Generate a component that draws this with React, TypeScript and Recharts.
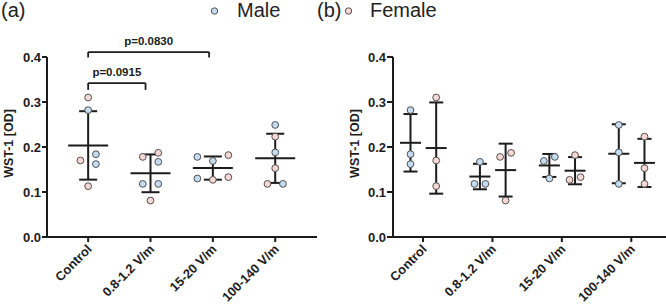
import React from 'react';
import { ScatterChart, Scatter, XAxis, YAxis, ErrorBar, ReferenceLine } from 'recharts';

// WST-1 optical density per exposure group, one value per animal
const GROUPS = ['Control', '0.8-1.2 V/m', '15-20 V/m', '100-140 V/m'];
const MALE = [
  [0.282, 0.184, 0.162],
  [0.167, 0.118, 0.118],
  [0.178, 0.169, 0.13],
  [0.249, 0.188, 0.118],
];
const FEMALE = [
  [0.31, 0.17, 0.113],
  [0.187, 0.178, 0.081],
  [0.182, 0.133, 0.127],
  [0.223, 0.153, 0.118],
];
const Y_TICKS = [0, 0.1, 0.2, 0.3, 0.4];
const P_LABELS = ['p=0.0915', 'p=0.0830'];

const FONT = '"Liberation Sans", Arial, sans-serif';
const INK = '#1c1c1c';
const MALE_FILL = '#c4dcf1';
const FEMALE_FILL = '#f7d7d3';
const DOT_STROKE = '#505050';

const W = 333;
const H = 304;
const TOP = 57;
const X_AXIS_H = 67;
const PLOT_H = H - TOP - X_AXIS_H;
const Y_PX = PLOT_H / 0.4;

// male / female sub-columns in panel b
const SUB = { m: -0.18, f: 0.19 };

// significance brackets in panel a (data units)
const BRACKETS = [
  { from: 0, to: 0.92, y: 0.342, drop: 0.015 },
  { from: 0, to: 1.94, y: 0.411, drop: 0.012 },
];

const mean = (v: number[]) => v.reduce((s, x) => s + x, 0) / v.length;
const sd = (v: number[]) => {
  const m = mean(v);
  return Math.sqrt(v.reduce((s, x) => s + (x - m) ** 2, 0) / (v.length - 1));
};

// spread overlapping dots sideways into columns (px offsets)
function swarm(values: number[], step: number, diam = 8.5) {
  const order = values.map((_, i) => i).sort((a, b) => values[b] - values[a]);
  const dx = values.map(() => 0);
  let i = 0;
  while (i < order.length) {
    let j = i;
    while (j + 1 < order.length && (values[order[j]] - values[order[j + 1]]) * Y_PX < diam) j++;
    const cluster = order.slice(i, j + 1);
    const clash = (k: number) =>
      cluster.some((id, n) => n + k < cluster.length && (values[id] - values[cluster[n + k]]) * Y_PX < diam);
    let k = 1;
    while (k < cluster.length && clash(k)) k++;
    const cols = k === 1 ? [0] : k === 2 ? [0.5, -0.5] : [1, -1, 0];
    cluster.forEach((id, n) => {
      dx[id] = cols[n % cols.length] * step;
    });
    i = j + 1;
  }
  return dx;
}

type Dot = { x: number; y: number; dx: number };

// panel a: both sexes pooled per group
const pooledMale: Dot[] = [];
const pooledFemale: Dot[] = [];
GROUPS.forEach((_, i) => {
  const vals = [...MALE[i], ...FEMALE[i]];
  const dx = swarm(vals, 15.5);
  vals.forEach((v, n) => {
    const d = { x: i, y: v, dx: dx[n] };
    if (n < MALE[i].length) pooledMale.push(d);
    else pooledFemale.push(d);
  });
});
const pooledSummary = GROUPS.map((_, i) => {
  const vals = [...MALE[i], ...FEMALE[i]];
  return { x: i, y: mean(vals), sd: sd(vals) };
});

// panel b: sexes side by side
const splitDots = (src: number[][], off: number): Dot[] =>
  src.flatMap((vals, i) => {
    const dx = swarm(vals, 11);
    return vals.map((v, n) => ({ x: i + off, y: v, dx: dx[n] }));
  });
const splitSummary = (src: number[][], off: number) =>
  src.map((vals, i) => ({ x: i + off, y: mean(vals), sd: sd(vals) }));

const maleDots = splitDots(MALE, SUB.m);
const femaleDots = splitDots(FEMALE, SUB.f);
const maleSummary = splitSummary(MALE, SUB.m);
const femaleSummary = splitSummary(FEMALE, SUB.f);

const dotShape = (fill: string) => (p: any) => (
  <circle cx={p.cx + p.payload.dx} cy={p.cy} r={3.4} fill={fill} stroke={DOT_STROKE} strokeWidth={1} />
);

const meanShape = (half: number) => (p: any) => (
  <line x1={p.cx - half} x2={p.cx + half} y1={p.cy} y2={p.cy} stroke={INK} strokeWidth={2} />
);

const CategoryTick = (p: any) => {
  const x = p.x + 4.5;
  const y = p.y + 6;
  return (
    <text
      x={x}
      y={y}
      transform={`rotate(-45 ${x} ${y})`}
      textAnchor="end"
      fontFamily={FONT}
      fontWeight="bold"
      fontSize={12.8}
      fill={INK}
    >
      {GROUPS[p.payload.value]}
    </text>
  );
};

const yTitle = (cx: number) => (p: any) => {
  const vb = p.viewBox;
  const cy = vb.y + vb.height / 2 - 3.5;
  return (
    <text
      x={cx}
      y={cy}
      transform={`rotate(-90 ${cx} ${cy})`}
      textAnchor="middle"
      dominantBaseline="central"
      fontFamily={FONT}
      fontWeight="bold"
      fontSize={12.5}
      fill={INK}
    >
      WST-1 [OD]
    </text>
  );
};

const axisStroke = { stroke: INK, strokeWidth: 2 };
const tickFont = { fill: INK, fontSize: 13, fontWeight: 700, fontFamily: FONT };

export default function App() {
  const lineProps = { stroke: INK, strokeWidth: 1.8, ifOverflow: 'visible' as const };
  return (
    <div style={{ position: 'absolute', left: 0, top: 0, width: 666, height: 304, background: '#fff' }}>
      <div style={{ position: 'absolute', left: 0, top: 0 }}>
        <ScatterChart width={W} height={H} margin={{ top: TOP, right: 16, bottom: 0, left: 0 }}>
          <XAxis
            type="number"
            dataKey="x"
            domain={[-0.66, 3.67]}
            ticks={[0, 1, 2, 3]}
            interval={0}
            height={X_AXIS_H}
            tick={CategoryTick}
            tickSize={5}
            axisLine={axisStroke}
            tickLine={axisStroke}
            allowDataOverflow
          />
          <YAxis
            type="number"
            dataKey="y"
            domain={[0, 0.4]}
            ticks={Y_TICKS}
            interval={0}
            width={47}
            tickSize={5}
            tickMargin={1}
            tick={tickFont}
            tickFormatter={(v: number) => v.toFixed(1)}
            axisLine={axisStroke}
            tickLine={axisStroke}
            label={{ content: yTitle(8.7) }}
            allowDataOverflow
          />
          {BRACKETS.map((b, i) => (
            <ReferenceLine
              key={`h${i}`}
              segment={[{ x: b.from, y: b.y }, { x: b.to, y: b.y }]}
              {...lineProps}
              label={{
                value: P_LABELS[i],
                position: 'top',
                offset: 7,
                fill: INK,
                fontSize: 11.5,
                fontWeight: 700,
                fontFamily: FONT,
              }}
            />
          ))}
          {BRACKETS.flatMap((b, i) =>
            [b.from, b.to].map((x, k) => (
              <ReferenceLine
                key={`v${i}${k}`}
                segment={[{ x, y: b.y }, { x, y: b.y - b.drop }]}
                {...lineProps}
              />
            ))
          )}
          <Scatter data={pooledSummary} shape={meanShape(20)} isAnimationActive={false}>
            <ErrorBar dataKey="sd" direction="y" width={9} stroke={INK} strokeWidth={2} isAnimationActive={false} />
          </Scatter>
          <Scatter data={pooledMale} shape={dotShape(MALE_FILL)} isAnimationActive={false} />
          <Scatter data={pooledFemale} shape={dotShape(FEMALE_FILL)} isAnimationActive={false} />
        </ScatterChart>
      </div>
      <div style={{ position: 'absolute', left: W, top: 0 }}>
        <ScatterChart width={W} height={H} margin={{ top: TOP, right: 0, bottom: 0, left: 0 }}>
          <XAxis
            type="number"
            dataKey="x"
            domain={[-0.432, 3.5]}
            ticks={[0, 1, 2, 3]}
            interval={0}
            height={X_AXIS_H}
            tick={CategoryTick}
            tickSize={5}
            axisLine={axisStroke}
            tickLine={axisStroke}
            allowDataOverflow
          />
          <YAxis
            type="number"
            dataKey="y"
            domain={[0, 0.4]}
            ticks={Y_TICKS}
            interval={0}
            width={60}
            tickSize={6}
            tickMargin={1}
            tick={tickFont}
            tickFormatter={(v: number) => v.toFixed(1)}
            axisLine={axisStroke}
            tickLine={axisStroke}
            label={{ content: yTitle(22) }}
            allowDataOverflow
          />
          <Scatter data={maleSummary} shape={meanShape(10.5)} isAnimationActive={false}>
            <ErrorBar dataKey="sd" direction="y" width={7} stroke={INK} strokeWidth={2} isAnimationActive={false} />
          </Scatter>
          <Scatter data={femaleSummary} shape={meanShape(10.5)} isAnimationActive={false}>
            <ErrorBar dataKey="sd" direction="y" width={7} stroke={INK} strokeWidth={2} isAnimationActive={false} />
          </Scatter>
          <Scatter data={maleDots} shape={dotShape(MALE_FILL)} isAnimationActive={false} />
          <Scatter data={femaleDots} shape={dotShape(FEMALE_FILL)} isAnimationActive={false} />
        </ScatterChart>
      </div>
      <svg width={666} height={26} style={{ position: 'absolute', left: 0, top: 0 }}>
        <g fontFamily={FONT} fontSize={20} fill="#222">
          <text x={1} y={17}>(a)</text>
          <circle cx={214.5} cy={11} r={3.2} fill={MALE_FILL} stroke={DOT_STROKE} strokeWidth={1} />
          <text x={237} y={17}>Male</text>
          <text x={317} y={17}>(b)</text>
          <circle cx={348.5} cy={11} r={3.2} fill={FEMALE_FILL} stroke={DOT_STROKE} strokeWidth={1} />
          <text x={370} y={17}>Female</text>
        </g>
      </svg>
    </div>
  );
}
